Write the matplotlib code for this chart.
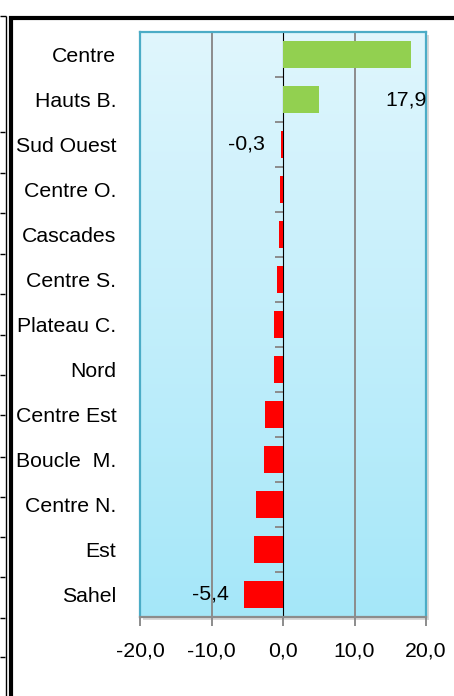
import numpy as np
import matplotlib
matplotlib.use("Agg")
import matplotlib.pyplot as plt
from matplotlib.lines import Line2D
from matplotlib.patches import Rectangle

plt.rcParams['font.family'] = ['Liberation Sans', 'DejaVu Sans']

regions = ["Centre", "Hauts B.", "Sud Ouest", "Centre O.", "Cascades", "Centre S.",
           "Plateau C.", "Nord", "Centre Est", "Boucle  M.", "Centre N.", "Est", "Sahel"]
values = [17.9, 5.1, -0.3, -0.4, -0.6, -0.8, -1.2, -1.3, -2.5, -2.7, -3.8, -4.1, -5.4]
xticks = [-20, -10, 0, 10, 20]
xticklabels = ["-20,0", "-10,0", "0,0", "10,0", "20,0"]
labelled = {"Centre": "17,9", "Sud Ouest": "-0,3", "Sahel": "-5,4"}

W, H = 454, 696
fig = plt.figure(figsize=(W / 100, H / 100), dpi=100)
fs = 15.3

def fx(px):
    return px / W

def fy(py):
    return 1 - py / H

left, right, top, bottom = 140, 426, 32, 617
ax = fig.add_axes([fx(left), fy(bottom), fx(right - left), (bottom - top) / H])

# vertical gradient background
grad = np.linspace(0, 1, 256).reshape(-1, 1)
c_top = np.array([0.878, 0.965, 0.992])
c_bot = np.array([0.647, 0.906, 0.976])
img = c_top[None, None, :] * (1 - grad[:, :, None]) + c_bot[None, None, :] * grad[:, :, None]
ax.imshow(img, extent=[0, 1, 0, 1], transform=ax.transAxes, aspect='auto', zorder=0)

# drop shadow of plot area
shadow = Rectangle((fx(left + 3), fy(bottom + 3)), fx(right - left), (bottom - top) / H,
                   transform=fig.transFigure, facecolor='#d9d9d9', edgecolor='none', zorder=-1)
fig.add_artist(shadow)

y = np.arange(len(regions))
colors = ['#92d050' if v > 0 else '#ff0000' for v in values]
ax.barh(y, values, height=0.58, color=colors, zorder=3)

ax.set_xlim(-20, 20)
ax.set_ylim(len(regions) - 0.5, -0.5)

for g in [-10, 10]:
    ax.axvline(g, color='#8c8c8c', lw=1.4, zorder=1)

ax.set_yticks(y)
ax.set_yticklabels(regions, fontsize=fs)
ax.tick_params(axis='y', length=0, pad=17)
ax.set_xticks(xticks)
ax.set_xticklabels(xticklabels, fontsize=fs)
ax.tick_params(axis='x', direction='out', length=6.5, width=1.4, color='#8c8c8c', pad=11)

for s in ax.spines.values():
    s.set_color('#4bacc6')
    s.set_linewidth(1.6)
ax.spines['bottom'].set_color('#8c8c8c')

# category axis drawn at zero, ticks pointing to the negative side
sec = ax.secondary_yaxis(0.5)
sec.set_yticks(np.arange(len(regions) + 1) - 0.5)
sec.set_yticklabels([])
sec.tick_params(axis='y', direction='in', length=6, width=1.4, color='#8c8c8c')
sec.spines['left'].set_color('#8c8c8c')
sec.spines['left'].set_linewidth(1.4)

# value labels
for i, (name, v) in enumerate(zip(regions, values)):
    if name not in labelled:
        continue
    if v > 0:
        ax.annotate(labelled[name], xy=(v, i + 1), xytext=(16, 0), textcoords='offset pixels',
                    ha='right', va='center', fontsize=fs, zorder=4)
    else:
        ax.annotate(labelled[name], xy=(v, i), xytext=(-16, 0), textcoords='offset pixels',
                    ha='right', va='center', fontsize=fs, zorder=4)

# surrounding frame
def fline(x0, y0, x1, y1, lw):
    fig.add_artist(Line2D([fx(x0), fx(x1)], [fy(y0), fy(y1)], color='black', lw=lw,
                          transform=fig.transFigure, solid_capstyle='butt'))

fline(10.5, 15.5, 10.5, 696, 3.0)
fline(5.5, 15.5, 5.5, 696, 1.0)
fline(9, 17.5, 454, 17.5, 3.0)
fline(0, 16, 6, 16, 1.0)
for ty in [132, 173, 213, 254, 294, 335, 375, 415, 457, 497, 537, 577, 618, 657]:
    fline(0, ty, 5, ty, 1.0)

fig.savefig("out.png", dpi=100)
